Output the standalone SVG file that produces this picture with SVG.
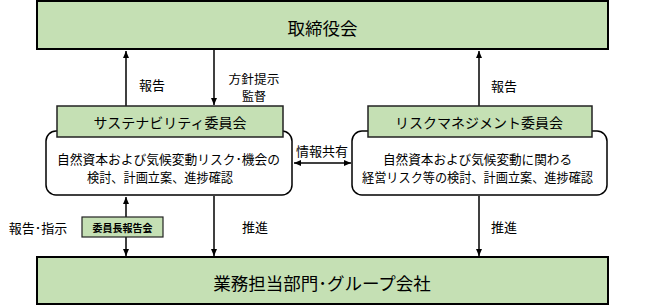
<svg xmlns="http://www.w3.org/2000/svg" width="645" height="307" viewBox="0 0 645 307">
<defs>
<style>
text{font-family:"Noto Sans CJK JP","Noto Sans CJK SC",sans-serif;fill:#000;text-anchor:middle;dominant-baseline:central}
.big{stroke:#000;stroke-width:2;fill:#c5e0b4}
.hdr{stroke:#222;stroke-width:1.5;fill:#c5e0b4}
.body{stroke:#000;stroke-width:1.5;fill:#fff}
.line{stroke:#000;stroke-width:1.5;fill:none}
.t17{font-size:17.5px}
.t14{font-size:14px}
.t13{font-size:13px}
.t12{font-size:12px}
.t10{font-size:10px;font-weight:bold}
</style>
<marker id="ah" markerUnits="userSpaceOnUse" markerWidth="8" markerHeight="8" viewBox="0 0 8 8" refX="7" refY="4" orient="auto-start-reverse">
<path d="M0,1 L7,4 L0,7 Z" fill="#000"/>
</marker>
</defs>
<g id="connectors">
<line class="line" x1="126" y1="106" x2="126" y2="51" marker-end="url(#ah)"/>
<line class="line" x1="214" y1="50" x2="214" y2="105" marker-end="url(#ah)"/>
<line class="line" x1="479" y1="106" x2="479" y2="51" marker-end="url(#ah)"/>
<line class="line" x1="294" y1="163" x2="351" y2="163" marker-start="url(#ah)" marker-end="url(#ah)"/>
<line class="line" x1="126" y1="197" x2="126" y2="256" marker-start="url(#ah)" marker-end="url(#ah)"/>
<line class="line" x1="214" y1="196" x2="214" y2="256" marker-end="url(#ah)"/>
<line class="line" x1="479" y1="196" x2="479" y2="256" marker-end="url(#ah)"/>
<text class="t13" x="152" y="84">報告</text>
<text class="t12" x="254" y="78.5" textLength="51" lengthAdjust="spacingAndGlyphs">方針提示</text>
<text class="t12" x="254" y="95.5">監督</text>
<text class="t13" x="504" y="85">報告</text>
<text class="t13" x="322" y="150">情報共有</text>
<text class="t13" x="38" y="227">報告･指示</text>
<text class="t13" x="255" y="226">推進</text>
<text class="t13" x="504" y="226">推進</text>
</g>
<g id="board">
<rect class="big" x="37" y="1" width="571" height="48"/>
<text class="t17" x="322.5" y="27">取締役会</text>
</g>
<g id="sustainability">
<rect class="body" x="46" y="131" width="246" height="64" rx="10"/>
<rect class="hdr" x="57" y="106" width="226" height="31"/>
<text class="t14" x="170" y="122">サステナビリティ委員会</text>
<text class="t13" x="168.5" y="158.5" textLength="223" lengthAdjust="spacingAndGlyphs">自然資本および気候変動リスク･機会の</text>
<text class="t13" x="160" y="176" textLength="146" lengthAdjust="spacingAndGlyphs">検討、計画立案、進捗確認</text>
</g>
<g id="risk">
<rect class="body" x="352" y="131" width="255" height="64" rx="10"/>
<rect class="hdr" x="368" y="106" width="224" height="31"/>
<text class="t14" x="479" y="122">リスクマネジメント委員会</text>
<text class="t13" x="477.5" y="158.5" textLength="189" lengthAdjust="spacingAndGlyphs">自然資本および気候変動に関わる</text>
<text class="t13" x="477.5" y="176" textLength="231" lengthAdjust="spacingAndGlyphs">経営リスク等の検討、計画立案、進捗確認</text>
</g>
<g id="report-meeting">
<rect class="hdr" x="82" y="217" width="81" height="20" style="stroke-width:1.2"/>
<text class="t10" x="122.5" y="227">委員長報告会</text>
</g>
<g id="operations">
<rect class="big" x="37" y="257" width="571" height="47"/>
<text class="t17" x="322" y="282">業務担当部門･グループ会社</text>
</g>
</svg>
